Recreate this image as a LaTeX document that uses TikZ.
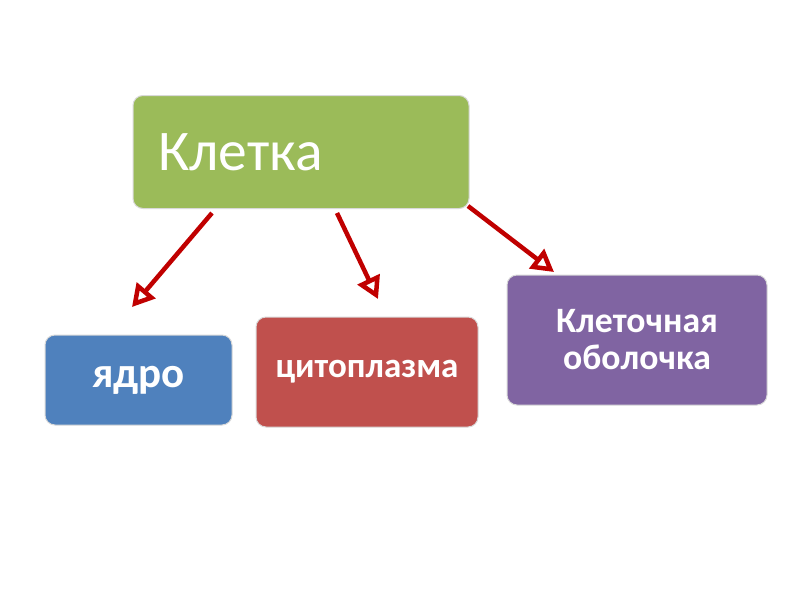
\documentclass[tikz,border=0pt]{standalone}
\usepackage{fontspec}
\setmainfont{Carlito}
\usetikzlibrary{arrows.meta}
\definecolor{cellgreen}{HTML}{9BBB59}
\definecolor{partblue}{HTML}{4F81BD}
\definecolor{partred}{HTML}{C0504D}
\definecolor{partviolet}{HTML}{8064A2}
\definecolor{arrowred}{HTML}{C00000}
\tikzset{
  box/.style={draw=black!15, line width=1pt, rounded corners=10pt, text=white,
    inner sep=0pt, align=center},
  link/.style={arrowred, line width=4.5pt,
    -{Triangle[open, length=22pt, width=24pt, fill=white, line width=4.5pt]}}
}
\begin{document}
\begin{tikzpicture}[x=1pt, y=-1pt]
  \useasboundingbox[fill=white] (0,0) rectangle (800,600);
  \node[box, fill=cellgreen, minimum width=336pt, minimum height=113pt,
    text width=286pt, align=left, font=\fontsize{57.5}{62}\selectfont]
    (cell) at (301,152) {Клетка};
  \node[box, fill=partblue, minimum width=187pt, minimum height=90pt,
    font=\bfseries\fontsize{43}{46}\selectfont] (nucleus) at (138.5,380) {ядро};
  \node[box, fill=partred, minimum width=222pt, minimum height=110pt,
    font=\bfseries\fontsize{35}{40}\selectfont] (cytoplasm) at (367,372) {цитоплазма};
  \node[box, fill=partviolet, minimum width=260pt, minimum height=130pt,
    font=\bfseries\fontsize{35.7}{37}\selectfont] (membrane) at (637,340)
    {Клеточная\\оболочка};
  \coordinate (a) at (212,213); \coordinate (b) at (337,213);
  \coordinate (c) at (468,206);
  \coordinate (a') at (132,307); \coordinate (b') at (378,299);
  \coordinate (c') at (554,272);
  \foreach \p in {a,b,c} \draw[link] (\p) -- (\p');
\end{tikzpicture}
\end{document}
